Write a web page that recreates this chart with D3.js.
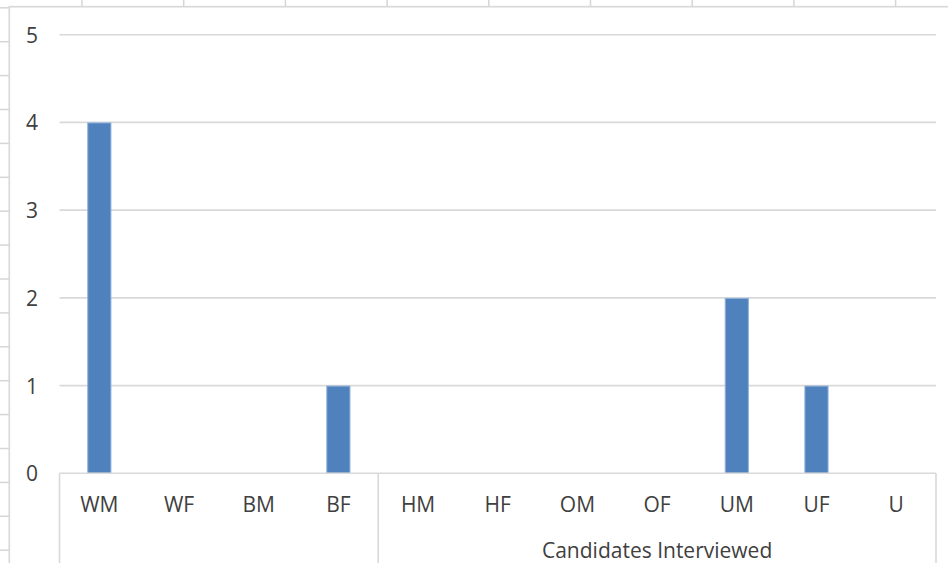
<!DOCTYPE html>
<html>
<head>
<meta charset="utf-8">
<script src="https://cdn.jsdelivr.net/npm/d3@7/dist/d3.min.js"></script>
<style>
  html, body { margin: 0; padding: 0; background: #fff; }
  svg { display: block; }
  text { font-family: "Open Sans", "Noto Sans", sans-serif; fill: #404040; }
</style>
</head>
<body>
<svg id="chart" width="948" height="563"></svg>
<script>
// Candidates interviewed, by group code
const categories = ["WM", "WF", "BM", "BF", "HM", "HF", "OM", "OF", "UM", "UF", "U"];
const counts     = [4, 0, 0, 1, 0, 0, 0, 0, 2, 1, 0];
const yTicks     = [0, 1, 2, 3, 4, 5];
// Outer grouping of the category axis: first and last category of each group
const groups      = [
  { label: "",                       from: "WM", to: "BF" },
  { label: "Candidates Interviewed", from: "HM", to: "U"  }
];

const W = 948, H = 563;
const plot = { left: 59.5, right: 936, top: 34.7, bottom: 473.3 };
const gridColor = "#d9d9d9";

const svg = d3.select("#chart");
svg.append("rect").attr("width", W).attr("height", H).attr("fill", "#fff");

// Worksheet cell borders peeking out behind the chart object
const sheet = svg.append("g").attr("stroke", "#d6d6d6").attr("stroke-width", 1.5);
for (let i = 0; i < 9; i++) {
  const x = 82 + i * 101.7;
  sheet.append("line").attr("x1", x).attr("x2", x).attr("y1", 0).attr("y2", 7);
}
for (let k = 0; k < 17; k++) {
  const y = 7.8 + k * 33.9;
  sheet.append("line").attr("x1", 0).attr("x2", 10).attr("y1", y).attr("y2", y);
}

// Chart area (runs past the right and bottom edges of the view)
svg.append("rect")
  .attr("x", 9.3).attr("y", 6.7)
  .attr("width", 960).attr("height", 600)
  .attr("fill", "#fff")
  .attr("stroke", gridColor).attr("stroke-width", 1.7);

const x = d3.scaleBand().domain(categories).range([plot.left, plot.right]).padding(0);
const y = d3.scaleLinear().domain([0, 5]).range([plot.bottom, plot.top]);

// Horizontal gridlines
svg.append("g")
  .selectAll("line")
  .data(yTicks.filter(t => t > 0))
  .join("line")
  .attr("x1", plot.left).attr("x2", plot.right)
  .attr("y1", d => y(d)).attr("y2", d => y(d))
  .attr("stroke", gridColor).attr("stroke-width", 1.6);

// Value axis labels
const yAxis = d3.axisLeft(y).tickValues(yTicks).tickSize(0).tickPadding(0).tickFormat(d3.format("d"));
const yG = svg.append("g").attr("transform", "translate(38,0)").call(yAxis);
yG.select(".domain").remove();
yG.selectAll("text")
  .attr("font-size", 21)
  .attr("text-anchor", "end")
  .attr("dy", "0.36em")
  .attr("fill", "#404040")
  .style("font-family", "'Open Sans', sans-serif");

// Bars
const barW = x.bandwidth() / 3.3;
svg.append("g")
  .selectAll("rect")
  .data(categories.map((c, i) => ({ c, v: counts[i] })).filter(d => d.v > 0))
  .join("rect")
  .attr("x", d => x(d.c) + x.bandwidth() / 2 - barW / 2 + 0.5)
  .attr("width", barW - 1)
  .attr("y", d => y(d.v) + 0.5)
  .attr("height", d => y(0) - y(d.v) - 0.5)
  .attr("fill", "#4f81bd")
  .attr("stroke", "#8eb0d9")
  .attr("stroke-width", 1);

// Category axis: baseline and group dividers
const axisG = svg.append("g").attr("stroke", gridColor).attr("stroke-width", 1.6);
axisG.append("line")
  .attr("x1", plot.left).attr("x2", plot.right)
  .attr("y1", y(0)).attr("y2", y(0));
const dividers = [plot.left, ...groups.slice(1).map(g => x(g.from)), plot.right];
axisG.selectAll(".div")
  .data(dividers)
  .join("line")
  .attr("x1", d => d).attr("x2", d => d)
  .attr("y1", y(0)).attr("y2", H + 10);

// Category labels
const xAxis = d3.axisBottom(x).tickSize(0).tickPadding(0);
const xG = svg.append("g").attr("transform", "translate(0,512)").call(xAxis);
xG.select(".domain").remove();
xG.selectAll("text")
  .attr("font-size", 21)
  .attr("dy", 0)
  .attr("y", 0)
  .attr("fill", "#404040")
  .style("font-family", "'Open Sans', sans-serif");

// Group labels
svg.append("g")
  .selectAll("text")
  .data(groups)
  .join("text")
  .attr("x", d => (x(d.from) + x(d.to) + x.bandwidth()) / 2)
  .attr("y", 558)
  .attr("text-anchor", "middle")
  .attr("font-size", 21)
  .text(d => d.label);
</script>
</body>
</html>
